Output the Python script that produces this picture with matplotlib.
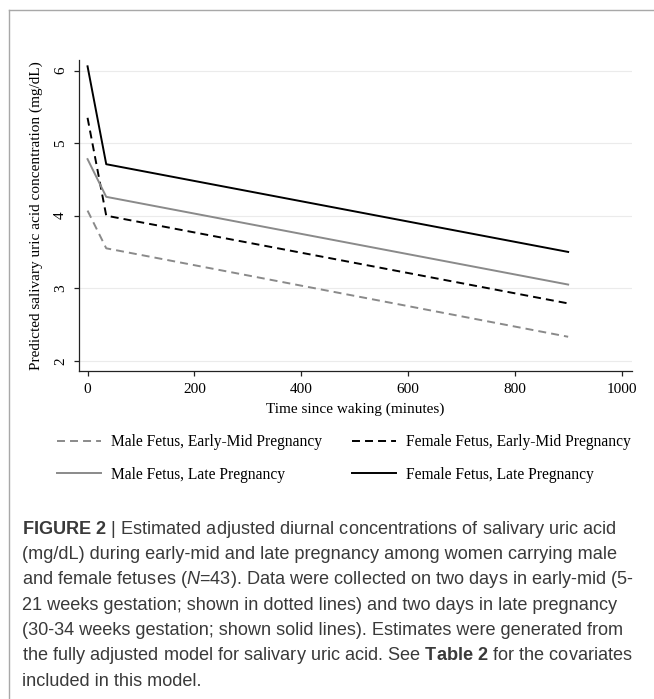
import numpy as np
import matplotlib
matplotlib.use("Agg")
from matplotlib import pyplot as plt
from matplotlib.lines import Line2D

# ---- data ----
time_pts = [0, 35, 900]
male_early = [4.07, 3.55, 2.33]
female_early = [5.35, 4.00, 2.79]
male_late = [4.78, 4.26, 3.05]
female_late = [6.06, 4.71, 3.50]

labels = ['Male Fetus, Early-Mid Pregnancy', 'Female Fetus, Early-Mid Pregnancy',
          'Male Fetus, Late Pregnancy', 'Female Fetus, Late Pregnancy']

xticks = [0, 200, 400, 600, 800, 1000]
yticks = [2, 3, 4, 5, 6]

caption = [
    r"$\mathbf{FIGURE\ 2}$ | Estimated adjusted diurnal concentrations of salivary uric acid",
    "(mg/dL) during early-mid and late pregnancy among women carrying male",
    r"and female fetuses ($\mathit{N}$=43). Data were collected on two days in early-mid (5-",
    "21 weeks gestation; shown in dotted lines) and two days in late pregnancy",
    "(30-34 weeks gestation; shown solid lines). Estimates were generated from",
    r"the fully adjusted model for salivary uric acid. See $\mathbf{Table\ 2}$ for the covariates",
    "included in this model.",
]

plt.rcParams['font.family'] = ['Liberation Serif', 'DejaVu Serif']
plt.rcParams['mathtext.fontset'] = 'custom'
plt.rcParams['mathtext.rm'] = 'Liberation Sans'
plt.rcParams['mathtext.it'] = 'Liberation Sans:italic'
plt.rcParams['mathtext.bf'] = 'Liberation Sans:bold'

W, H = 654, 699
fig = plt.figure(figsize=(W/100, H/100), dpi=100)

# axes box in pixels (left, right, top, bottom)
L, R, T, B = 79, 631.7, 59.8, 370.7
ax = fig.add_axes([L/W, 1-B/H, (R-L)/W, (B-T)/H])

gray = '#8a8a8a'
dash = (0, (4.1, 2.6))
lw = 1.4
ax.plot(time_pts, male_early, color=gray, lw=lw, ls=dash)
ax.plot(time_pts, female_early, color='black', lw=lw, ls=dash)
ax.plot(time_pts, male_late, color=gray, lw=lw)
ax.plot(time_pts, female_late, color='black', lw=lw)

ax.set_xlim(-16, 1019)
ax.set_ylim(1.862, 6.15)
ax.set_xticks(xticks)
ax.set_yticks(yticks)
ax.set_yticklabels([str(v) for v in yticks], rotation=90, va='center')
ax.grid(axis='y', color='#ebebeb', lw=0.8)
ax.set_axisbelow(True)
for s in ['top', 'right']:
    ax.spines[s].set_visible(False)
for s in ['left', 'bottom']:
    ax.spines[s].set_color('#222222')
    ax.spines[s].set_linewidth(0.9)
ax.tick_params(direction='out', length=3.5, width=0.9, color='#222222',
               labelsize=11, pad=5)

ax.set_xlabel('Time since waking (minutes)', fontsize=11)
ax.set_ylabel('Predicted salivary uric acid concentration (mg/dL)', fontsize=11)
ax.xaxis.set_label_coords(0.5, -(403-B)/(B-T))
ax.yaxis.set_label_coords(-(79-43)/(R-L), 0.5)

# legend (two columns, row order as in the original)
handles = [Line2D([], [], color=gray, lw=lw, ls=dash),
           Line2D([], [], color=gray, lw=lw),
           Line2D([], [], color='black', lw=lw, ls=dash),
           Line2D([], [], color='black', lw=lw)]
order = [labels[0], labels[2], labels[1], labels[3]]
fig.legend(handles, order, ncol=2, loc='upper left',
           bbox_to_anchor=(57/W, 1-434/H), frameon=False, fontsize=11.2,
           handlelength=2.8, handletextpad=0.65, columnspacing=1.95,
           labelspacing=1.08, borderaxespad=0, borderpad=0)

# caption
cap_size = 13.1
y0 = 529
for i, line in enumerate(caption):
    fig.text(22/W, 1-(y0 + i*25.4)/H, line, fontsize=cap_size, color='#3a3a3a',
             family='Liberation Sans', va='center', ha='left')

# outer frame lines
fig.add_artist(Line2D([9/W, 9/W], [0, 1-10/H], transform=fig.transFigure,
                      color='#a8a8a8', lw=1))
fig.add_artist(Line2D([9/W, 1], [1-10/H, 1-10/H], transform=fig.transFigure,
                      color='#a8a8a8', lw=1))

fig.savefig('out.png', dpi=100)
